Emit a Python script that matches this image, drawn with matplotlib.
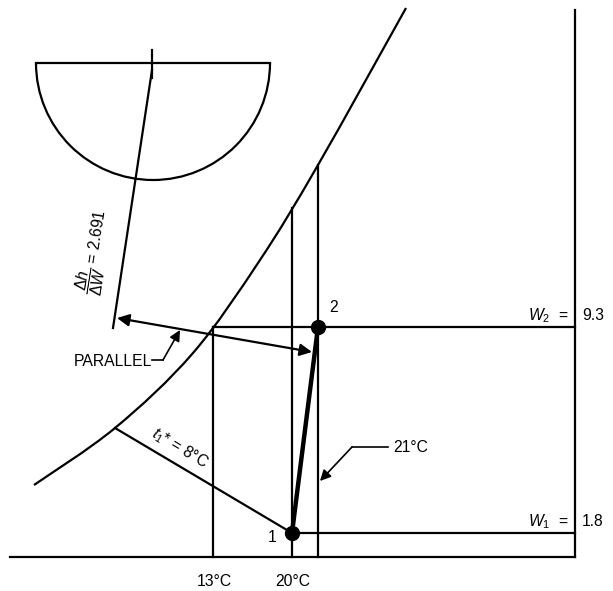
import numpy as np
import matplotlib
matplotlib.use("Agg")
import matplotlib.pyplot as plt
from matplotlib.path import Path
from matplotlib.patches import PathPatch, Arc, FancyArrowPatch

plt.rcParams['font.family'] = ['Liberation Sans', 'DejaVu Sans']
plt.rcParams['mathtext.fontset'] = 'custom'
plt.rcParams['mathtext.rm'] = 'Liberation Sans'
plt.rcParams['mathtext.it'] = 'Liberation Sans:italic'

# ---- schematic data (chart units: x right, y down) ----
sat_x = [34, 115, 193, 260, 318, 406]
sat_y = [485, 428, 353, 260, 165, 8]

temps = ["13°C", "20°C", "21°C"]
temp_x = [213, 292, 318]
temp_top = [327, 208, 165]

w_labels = ["$W_1$  =", "$W_2$  ="]
w_values = ["1.8", "9.3"]
w_y = [533, 327]
w_left = [292, 213]

state_names = ["1", "2"]
state_x = [292, 318]
state_y = [533, 327]

axis_left, axis_right, axis_bottom, axis_top = 10, 575, 557, 10

protractor_cx, protractor_cy, protractor_r = 153, 63, 117
slope_line_x = [152, 113]
slope_line_y = [70, 328]
slope_text = r"$\dfrac{\Delta h}{\Delta W}$ = 2.691"

wb_x = [115, 292]
wb_y = [428, 533]
wb_text = r"$t_1$* = 8°C"

parallel_arrow = [(117, 318), (312, 352)]

fig = plt.figure(figsize=(6.13, 5.91), dpi=100)
ax = fig.add_axes([0, 0, 1, 1])
ax.set_xlim(0, 613)
ax.set_ylim(591, 0)
ax.axis('off')

lw = 1.6
k = 'black'
fs = 11.3

# frame: bottom and right lines
ax.plot([axis_left, axis_right], [axis_bottom, axis_bottom], color=k, lw=lw)
ax.plot([axis_right, axis_right], [axis_top, axis_bottom], color=k, lw=lw)

# saturation curve (smooth Catmull-Rom -> Bezier)
pts = np.column_stack([sat_x, sat_y]).astype(float)
verts = [tuple(pts[0])]
codes = [Path.MOVETO]
n = len(pts)
for i in range(n - 1):
    p0 = pts[max(i - 1, 0)]
    p1 = pts[i]
    p2 = pts[i + 1]
    p3 = pts[min(i + 2, n - 1)]
    c1 = p1 + (p2 - p0) / 6.0
    c2 = p2 - (p3 - p1) / 6.0
    verts += [tuple(c1), tuple(c2), tuple(p2)]
    codes += [Path.CURVE4] * 3
ax.add_patch(PathPatch(Path(verts, codes), fill=False, color=k, lw=lw))

# dry-bulb verticals
for x, top in zip(temp_x, temp_top):
    ax.plot([x, x], [top, axis_bottom], color=k, lw=lw)

# humidity ratio horizontals
for y, xl in zip(w_y, w_left):
    ax.plot([xl, axis_right], [y, y], color=k, lw=lw)

# process line and states
ax.plot(state_x, state_y, color=k, lw=3.2, solid_capstyle='round')
ax.plot(state_x, state_y, 'o', color=k, ms=10)

# wet-bulb line
ax.plot(wb_x, wb_y, color=k, lw=lw)

# protractor
ax.plot([protractor_cx - protractor_r, protractor_cx + protractor_r],
        [protractor_cy, protractor_cy], color=k, lw=lw)
ax.add_patch(Arc((protractor_cx, protractor_cy), 2 * protractor_r, 2 * protractor_r,
                 theta1=0, theta2=180, color=k, lw=lw))
ax.plot([152, 152], [50, 78], color=k, lw=lw)
ax.plot(slope_line_x, slope_line_y, color=k, lw=lw)

# parallel double arrow
ax.add_patch(FancyArrowPatch(parallel_arrow[0], parallel_arrow[1], arrowstyle='<|-|>',
                             mutation_scale=18, color=k, lw=lw, shrinkA=0, shrinkB=0))

# PARALLEL leader
ax.plot([152, 163], [360, 360], color=k, lw=1.2)
ax.add_patch(FancyArrowPatch((163, 360), (180, 330), arrowstyle='-|>',
                             mutation_scale=16, color=k, lw=1.2, shrinkA=0, shrinkB=0))
ax.text(152, 362, "PARALLEL", ha='right', va='center', fontsize=fs)

# 21°C leader
ax.plot([352, 388], [447, 447], color=k, lw=1.2)
ax.add_patch(FancyArrowPatch((352, 447), (320, 481), arrowstyle='-|>',
                             mutation_scale=16, color=k, lw=1.2, shrinkA=0, shrinkB=0))
ax.text(393, 447, temps[2], ha='left', va='center', fontsize=fs)

# bottom temperature labels
for t, x in zip(temps[:2], temp_x[:2]):
    ax.text(x + 1, 581, t, ha='center', va='center', fontsize=fs)

# W labels
for lab, val, y in zip(w_labels, w_values, w_y):
    ax.text(569, y - 11, lab, ha='right', va='center', fontsize=fs)
    ax.text(582, y - 12, val, ha='left', va='center', fontsize=fs)

# state labels
ax.text(state_x[0] - 20, state_y[0] + 5, state_names[0], ha='center', va='center', fontsize=fs)
ax.text(state_x[1] + 16, state_y[1] - 19, state_names[1], ha='center', va='center', fontsize=fs)

# rotated labels
ax.text(94, 252, slope_text, rotation=81, ha='center', va='center',
        rotation_mode='anchor', fontsize=fs)
ax.text(180, 448, wb_text, rotation=-31, ha='center', va='center',
        rotation_mode='anchor', fontsize=fs)

fig.savefig("out.png", dpi=100)
